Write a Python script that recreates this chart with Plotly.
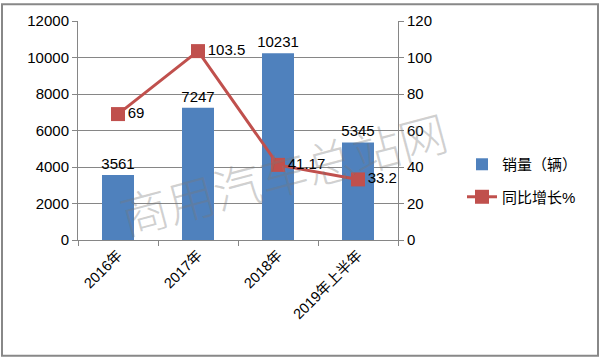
import plotly.graph_objects as go

categories = ["2016年", "2017年", "2018年", "2019年上半年"]
sales = [3561, 7247, 10231, 5345]
growth = [69, 103.5, 41.17, 33.2]
growth_labels = ["69", "103.5", "41.17", "33.2"]
left_ticks = [0, 2000, 4000, 6000, 8000, 10000, 12000]
right_ticks = [0, 20, 40, 60, 80, 100, 120]

FONT = "Liberation Sans, Noto Sans CJK SC, sans-serif"
fig = go.Figure()
fig.add_trace(go.Bar(
    x=categories, y=sales, name="销量（辆）", legendgroup="a",
    marker=dict(color="#4F81BD", line=dict(width=0)),
    text=[str(v) for v in sales], textposition="outside", constraintext="none",
    textfont=dict(size=15, color="#000000", family=FONT),
    cliponaxis=False, yaxis="y",
))
fig.add_trace(go.Scatter(
    x=categories, y=growth, name="同比增长%", mode="lines+markers+text", legendgroup="b",
    line=dict(color="#C0504D", width=3),
    marker=dict(symbol="square", size=14, color="#C0504D"),
    text=growth_labels, textposition="middle right",
    textfont=dict(size=15, color="#000000", family=FONT),
    cliponaxis=False, yaxis="y2",
))

fig.update_layout(
    width=600, height=359,
    margin=dict(l=78, r=202, t=19, b=119),
    paper_bgcolor="white", plot_bgcolor="white",
    font=dict(family=FONT, size=15, color="#000000"),
    bargap=0.6,
    showlegend=True,
    legend=dict(x=1.2, y=0.42, xanchor="left", yanchor="top",
                font=dict(size=15), tracegroupgap=10, itemwidth=30,
                bgcolor="rgba(0,0,0,0)"),
    xaxis=dict(tickangle=-45, showline=True, linecolor="#868686", linewidth=1,
               ticks="outside", ticklen=5, tickcolor="#868686", tickson="boundaries",
               showgrid=False, tickfont=dict(size=14.5)),
    yaxis=dict(range=[0, 12000], tickvals=left_ticks, ticktext=[str(v) for v in left_ticks],
               showline=True,
               linecolor="#868686", ticks="outside", ticklen=5, tickcolor="#868686",
               showgrid=True, gridcolor="#868686", gridwidth=1, zeroline=False,
               tickfont=dict(size=15)),
    yaxis2=dict(range=[0, 120], tickvals=right_ticks, ticktext=[str(v) for v in right_ticks],
                overlaying="y", side="right",
                showline=True, linecolor="#868686", ticks="outside", ticklen=5,
                tickcolor="#868686", showgrid=False, zeroline=False,
                tickfont=dict(size=15)),
    shapes=[dict(type="rect", xref="paper", yref="paper",
                 x0=-0.2375, x1=1.625, y0=-0.529, y1=1.077,
                 line=dict(color="#888888", width=2))],
    annotations=[dict(text="商用汽车总站网", xref="paper", yref="paper",
                      x=0.64, y=0.31, xanchor="center", yanchor="middle",
                      showarrow=False, textangle=-15,
                      font=dict(size=48, color="rgba(120,120,120,0.35)",
                                family="Noto Sans CJK SC", weight=300))],
)

fig.write_html("out.html")
